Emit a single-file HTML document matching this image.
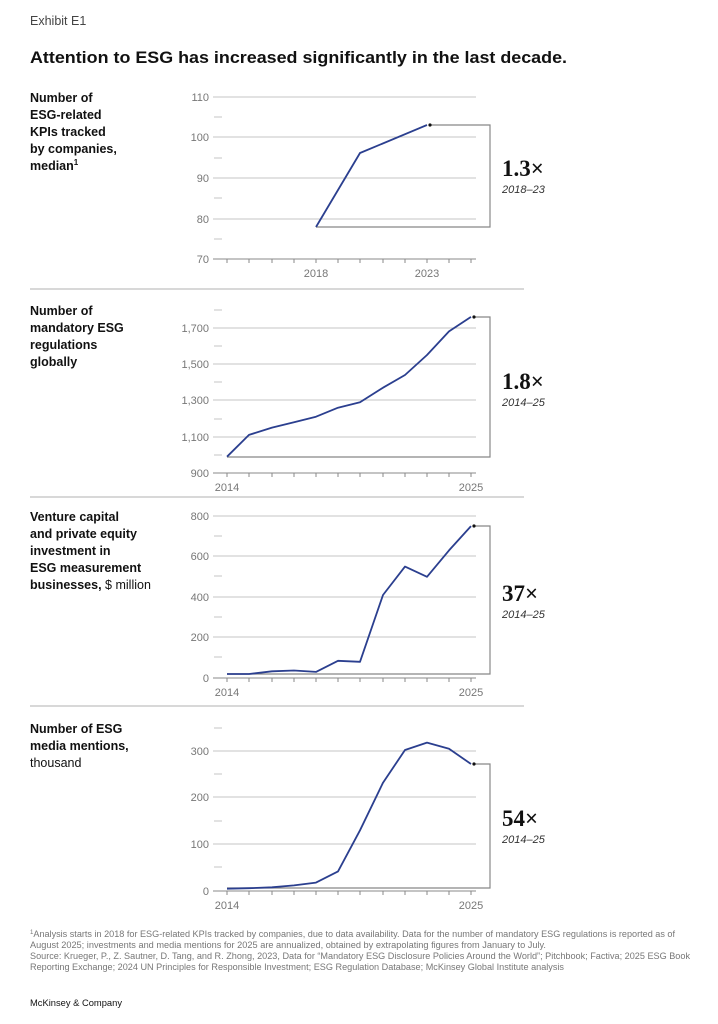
<!DOCTYPE html>
<html><head><meta charset="utf-8"><style>
html,body{margin:0;padding:0;background:#fff;}
svg{display:block;font-family:"Liberation Sans",sans-serif;}
.yl{font-size:11px;fill:#777;text-anchor:end;}
.xl{font-size:11px;fill:#777;text-anchor:middle;}
.lab{font-size:12.5px;font-weight:bold;fill:#111;}
.big{font-family:"Liberation Serif",serif;font-size:23px;font-weight:bold;fill:#111;}
.per{font-size:11px;font-style:italic;fill:#333;}
.g{stroke:#c4c4c4;stroke-width:1;}
.m{stroke:#c4c4c4;stroke-width:1;}
.ax{stroke:#888;stroke-width:1;}
.ln{fill:none;stroke:#2b3f8f;stroke-width:1.8;stroke-linejoin:round;}
.br{fill:none;stroke:#888;stroke-width:1.2;}
.ft{font-size:9px;fill:#777;}
</style></head><body>
<svg width="718" height="1024" viewBox="0 0 718 1024">
<text x="30" y="25" font-size="12.5" fill="#444">Exhibit E1</text>
<text x="30" y="63" font-size="17" font-weight="bold" fill="#111" textLength="537" lengthAdjust="spacingAndGlyphs">Attention to ESG has increased significantly in the last decade.</text>

<!-- Panel 1 -->
<text class="lab" x="30" y="102">Number of</text>
<text class="lab" x="30" y="119">ESG-related</text>
<text class="lab" x="30" y="136">KPIs tracked</text>
<text class="lab" x="30" y="153">by companies,</text>
<text class="lab" x="30" y="170">median<tspan font-size="8" dy="-5">1</tspan></text>
<g class="g"><line x1="213" x2="476" y1="97" y2="97"/><line x1="213" x2="476" y1="137" y2="137"/><line x1="213" x2="476" y1="178" y2="178"/><line x1="213" x2="476" y1="219" y2="219"/></g>
<g class="m"><line x1="214" x2="222" y1="117" y2="117"/><line x1="214" x2="222" y1="158" y2="158"/><line x1="214" x2="222" y1="198" y2="198"/><line x1="214" x2="222" y1="239" y2="239"/></g>
<line class="ax" x1="213" x2="476" y1="259" y2="259"/>
<g class="ax"><line x1="227" x2="227" y1="259" y2="263"/><line x1="249" x2="249" y1="259" y2="263"/><line x1="272" x2="272" y1="259" y2="263"/><line x1="294" x2="294" y1="259" y2="263"/><line x1="316" x2="316" y1="259" y2="263"/><line x1="338" x2="338" y1="259" y2="263"/><line x1="360" x2="360" y1="259" y2="263"/><line x1="383" x2="383" y1="259" y2="263"/><line x1="405" x2="405" y1="259" y2="263"/><line x1="427" x2="427" y1="259" y2="263"/><line x1="449" x2="449" y1="259" y2="263"/><line x1="471" x2="471" y1="259" y2="263"/></g>
<text class="yl" x="209" y="101">110</text><text class="yl" x="209" y="141">100</text><text class="yl" x="209" y="182">90</text><text class="yl" x="209" y="223">80</text><text class="yl" x="209" y="263">70</text>
<text class="xl" x="316" y="277">2018</text><text class="xl" x="427" y="277">2023</text>
<polyline class="br" points="430,125 490,125 490,227 316,227"/>
<polyline class="ln" points="316,227 360,153 427,125"/>
<circle cx="430" cy="125" r="1.6" fill="#111"/>
<text class="big" x="502" y="176">1.3×</text><text class="per" x="502" y="193">2018–23</text>
<line x1="30" x2="524" y1="289" y2="289" stroke="#ccc" stroke-width="1.5"/>

<!-- Panel 2 -->
<text class="lab" x="30" y="315">Number of</text>
<text class="lab" x="30" y="332">mandatory ESG</text>
<text class="lab" x="30" y="349">regulations</text>
<text class="lab" x="30" y="366">globally</text>
<g class="g"><line x1="213" x2="476" y1="328" y2="328"/><line x1="213" x2="476" y1="364" y2="364"/><line x1="213" x2="476" y1="400" y2="400"/><line x1="213" x2="476" y1="437" y2="437"/></g>
<g class="m"><line x1="214" x2="222" y1="310" y2="310"/><line x1="214" x2="222" y1="346" y2="346"/><line x1="214" x2="222" y1="382" y2="382"/><line x1="214" x2="222" y1="419" y2="419"/><line x1="214" x2="222" y1="455" y2="455"/></g>
<line class="ax" x1="213" x2="476" y1="473" y2="473"/>
<g class="ax"><line x1="227" x2="227" y1="473" y2="477"/><line x1="249" x2="249" y1="473" y2="477"/><line x1="272" x2="272" y1="473" y2="477"/><line x1="294" x2="294" y1="473" y2="477"/><line x1="316" x2="316" y1="473" y2="477"/><line x1="338" x2="338" y1="473" y2="477"/><line x1="360" x2="360" y1="473" y2="477"/><line x1="383" x2="383" y1="473" y2="477"/><line x1="405" x2="405" y1="473" y2="477"/><line x1="427" x2="427" y1="473" y2="477"/><line x1="449" x2="449" y1="473" y2="477"/><line x1="471" x2="471" y1="473" y2="477"/></g>
<text class="yl" x="209" y="332">1,700</text><text class="yl" x="209" y="368">1,500</text><text class="yl" x="209" y="404">1,300</text><text class="yl" x="209" y="441">1,100</text><text class="yl" x="209" y="477">900</text>
<text class="xl" x="227" y="491">2014</text><text class="xl" x="471" y="491">2025</text>
<polyline class="br" points="474,317 490,317 490,457 227,457"/>
<polyline class="ln" points="227,456.7 249,434.9 272,427.6 294,422.2 316,416.7 338,407.7 360,402.2 383,387.7 405,375 427,355 449,331.4 471,316.9"/>
<circle cx="474" cy="317" r="1.6" fill="#111"/>
<text class="big" x="502" y="389">1.8×</text><text class="per" x="502" y="406">2014–25</text>
<line x1="30" x2="524" y1="497" y2="497" stroke="#ccc" stroke-width="1.5"/>

<!-- Panel 3 -->
<text class="lab" x="30" y="521">Venture capital</text>
<text class="lab" x="30" y="538">and private equity</text>
<text class="lab" x="30" y="555">investment in</text>
<text class="lab" x="30" y="572">ESG measurement</text>
<text class="lab" x="30" y="589">businesses, <tspan font-weight="normal">$ million</tspan></text>
<g class="g"><line x1="213" x2="476" y1="516" y2="516"/><line x1="213" x2="476" y1="556" y2="556"/><line x1="213" x2="476" y1="597" y2="597"/><line x1="213" x2="476" y1="637" y2="637"/></g>
<g class="m"><line x1="214" x2="222" y1="536" y2="536"/><line x1="214" x2="222" y1="576" y2="576"/><line x1="214" x2="222" y1="617" y2="617"/><line x1="214" x2="222" y1="657" y2="657"/></g>
<line class="ax" x1="213" x2="476" y1="678" y2="678"/>
<g class="ax"><line x1="227" x2="227" y1="678" y2="682"/><line x1="249" x2="249" y1="678" y2="682"/><line x1="272" x2="272" y1="678" y2="682"/><line x1="294" x2="294" y1="678" y2="682"/><line x1="316" x2="316" y1="678" y2="682"/><line x1="338" x2="338" y1="678" y2="682"/><line x1="360" x2="360" y1="678" y2="682"/><line x1="383" x2="383" y1="678" y2="682"/><line x1="405" x2="405" y1="678" y2="682"/><line x1="427" x2="427" y1="678" y2="682"/><line x1="449" x2="449" y1="678" y2="682"/><line x1="471" x2="471" y1="678" y2="682"/></g>
<text class="yl" x="209" y="520">800</text><text class="yl" x="209" y="560">600</text><text class="yl" x="209" y="601">400</text><text class="yl" x="209" y="641">200</text><text class="yl" x="209" y="682">0</text>
<text class="xl" x="227" y="696">2014</text><text class="xl" x="471" y="696">2025</text>
<polyline class="br" points="474,526 490,526 490,674 227,674"/>
<polyline class="ln" points="227,674 249,674 272,671.3 294,670.5 316,671.9 338,660.8 360,661.8 383,595 405,566.6 427,576.8 449,550.4 471,526.1"/>
<circle cx="474" cy="526" r="1.6" fill="#111"/>
<text class="big" x="502" y="601">37×</text><text class="per" x="502" y="618">2014–25</text>
<line x1="30" x2="524" y1="706" y2="706" stroke="#ccc" stroke-width="1.5"/>

<!-- Panel 4 -->
<text class="lab" x="30" y="733">Number of ESG</text>
<text class="lab" x="30" y="750">media mentions,</text>
<text x="30" y="767" font-size="12.5" fill="#111">thousand</text>
<g class="g"><line x1="213" x2="476" y1="751" y2="751"/><line x1="213" x2="476" y1="797" y2="797"/><line x1="213" x2="476" y1="844" y2="844"/></g>
<g class="m"><line x1="214" x2="222" y1="728" y2="728"/><line x1="214" x2="222" y1="774" y2="774"/><line x1="214" x2="222" y1="821" y2="821"/><line x1="214" x2="222" y1="867" y2="867"/></g>
<line class="ax" x1="213" x2="476" y1="891" y2="891"/>
<g class="ax"><line x1="227" x2="227" y1="891" y2="895"/><line x1="249" x2="249" y1="891" y2="895"/><line x1="272" x2="272" y1="891" y2="895"/><line x1="294" x2="294" y1="891" y2="895"/><line x1="316" x2="316" y1="891" y2="895"/><line x1="338" x2="338" y1="891" y2="895"/><line x1="360" x2="360" y1="891" y2="895"/><line x1="383" x2="383" y1="891" y2="895"/><line x1="405" x2="405" y1="891" y2="895"/><line x1="427" x2="427" y1="891" y2="895"/><line x1="449" x2="449" y1="891" y2="895"/><line x1="471" x2="471" y1="891" y2="895"/></g>
<text class="yl" x="209" y="755">300</text><text class="yl" x="209" y="801">200</text><text class="yl" x="209" y="848">100</text><text class="yl" x="209" y="895">0</text>
<text class="xl" x="227" y="909">2014</text><text class="xl" x="471" y="909">2025</text>
<polyline class="br" points="474,764 490,764 490,888 227,888"/>
<polyline class="ln" points="227,888.7 249,888.2 272,887.3 294,885.4 316,882.6 338,871.4 360,830.3 383,782.7 405,750 427,742.6 449,748.7 471,764"/>
<circle cx="474" cy="764" r="1.6" fill="#111"/>
<text class="big" x="502" y="826">54×</text><text class="per" x="502" y="843">2014–25</text>

<!-- Footer -->
<text class="ft" x="30" y="937" textLength="645" lengthAdjust="spacingAndGlyphs"><tspan font-size="6" dy="-3">1</tspan><tspan dy="3">Analysis starts in 2018 for ESG-related KPIs tracked by companies, due to data availability. Data for the number of mandatory ESG regulations is reported as of</tspan></text>
<text class="ft" x="30" y="948" textLength="516" lengthAdjust="spacingAndGlyphs">August 2025; investments and media mentions for 2025 are annualized, obtained by extrapolating figures from January to July.</text>
<text class="ft" x="30" y="959" textLength="660" lengthAdjust="spacingAndGlyphs">Source: Krueger, P., Z. Sautner, D. Tang, and R. Zhong, 2023, Data for “Mandatory ESG Disclosure Policies Around the World”; Pitchbook; Factiva; 2025 ESG Book</text>
<text class="ft" x="30" y="970" textLength="534" lengthAdjust="spacingAndGlyphs">Reporting Exchange; 2024 UN Principles for Responsible Investment; ESG Regulation Database; McKinsey Global Institute analysis</text>
<text x="30" y="1006" font-size="9.5" fill="#111" textLength="92" lengthAdjust="spacingAndGlyphs">McKinsey &amp; Company</text>
</svg>
</body></html>
